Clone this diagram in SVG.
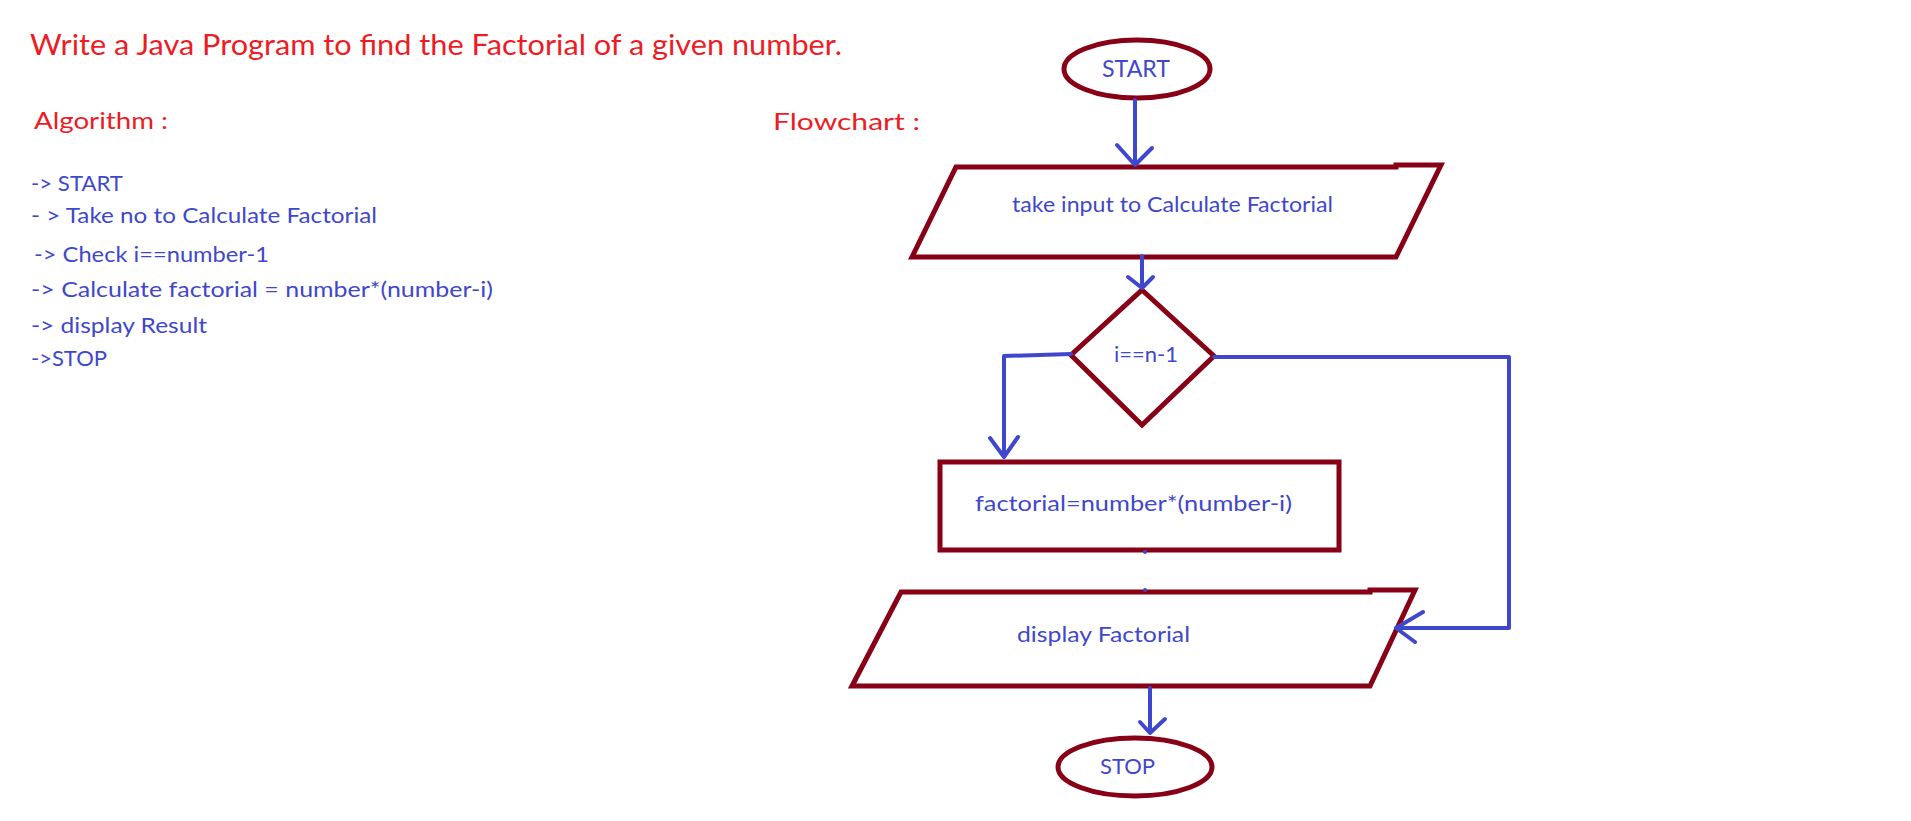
<svg xmlns="http://www.w3.org/2000/svg" width="1911" height="821" viewBox="0 0 1911 821">
<style>
  .red { fill: #ED1C24; font-family: Lato, "Liberation Sans", sans-serif; }
  .blue { fill: #3F48CC; font-family: Lato, "Liberation Sans", sans-serif; }
  .shape { fill: none; stroke: #880015; stroke-width: 5; stroke-linejoin: miter; }
  .conn { fill: none; stroke: #3F48CC; stroke-width: 4; stroke-linecap: round; stroke-linejoin: round; }
</style>
<rect width="1911" height="821" fill="#FFFFFF"/>

<g id="heading">
  <text class="red" x="30" y="55" font-size="28" textLength="812" lengthAdjust="spacingAndGlyphs">Write a Java Program to find the Factorial of a given number.</text>
  <text class="red" x="34" y="129" font-size="24" textLength="134" lengthAdjust="spacingAndGlyphs">Algorithm :</text>
  <text class="red" x="773" y="130" font-size="24" textLength="147" lengthAdjust="spacingAndGlyphs">Flowchart :</text>
</g>

<g id="algorithm">
  <text class="blue" x="31" y="191" font-size="22" textLength="92" lengthAdjust="spacingAndGlyphs">-&gt; START</text>
  <text class="blue" x="31" y="223" font-size="22" textLength="346" lengthAdjust="spacingAndGlyphs">- &gt; Take no to Calculate Factorial</text>
  <text class="blue" x="34" y="262" font-size="22" textLength="235" lengthAdjust="spacingAndGlyphs">-&gt; Check i==number-1</text>
  <text class="blue" x="31" y="297" font-size="22" textLength="462" lengthAdjust="spacingAndGlyphs">-&gt; Calculate factorial = number*(number-i)</text>
  <text class="blue" x="31" y="333" font-size="22" textLength="176" lengthAdjust="spacingAndGlyphs">-&gt; display Result</text>
  <text class="blue" x="31" y="366" font-size="22" textLength="76" lengthAdjust="spacingAndGlyphs">-&gt;STOP</text>
</g>

<g id="node-start">
  <ellipse class="shape" cx="1137" cy="69" rx="73" ry="29"/>
  <text class="blue" x="1102" y="77" font-size="23" textLength="68" lengthAdjust="spacingAndGlyphs">START</text>
</g>

<g id="node-input">
  <path class="shape" d="M912,257 L956,167 L1396,167 L1396,165 L1441,165 L1396,257 Z"/>
  <text class="blue" x="1012" y="212" font-size="21" textLength="321" lengthAdjust="spacingAndGlyphs">take input to Calculate Factorial</text>
</g>

<g id="node-decision">
  <path class="shape" d="M1142,290 L1214,356 L1142,425 L1071,355 Z"/>
  <text class="blue" x="1114" y="362" font-size="22" textLength="64" lengthAdjust="spacingAndGlyphs">i==n-1</text>
</g>

<g id="node-process">
  <rect class="shape" x="940" y="462" width="399" height="88"/>
  <text class="blue" x="975" y="511" font-size="22" textLength="317" lengthAdjust="spacingAndGlyphs">factorial=number*(number-i)</text>
</g>

<g id="node-display">
  <path class="shape" d="M852,686 L901,592 L1370,592 L1370,590 L1415,590 L1370,686 Z"/>
  <text class="blue" x="1017" y="642" font-size="21" textLength="173" lengthAdjust="spacingAndGlyphs">display Factorial</text>
</g>

<g id="node-stop">
  <ellipse class="shape" cx="1135" cy="767" rx="77" ry="29"/>
  <text class="blue" x="1100" y="774" font-size="22" textLength="55" lengthAdjust="spacingAndGlyphs">STOP</text>
</g>

<g id="connectors">
  <path class="conn" d="M1135,100 L1135,165 M1117,145 L1135,165 L1152,148"/>
  <path class="conn" d="M1142,256 L1142,288 M1128,277 L1142,288 L1153,277"/>
  <path class="conn" d="M1071,354 L1004,356 L1004,457 M990,438 L1004,457 L1018,437"/>
  <path class="conn" d="M1214,357 L1509,357 L1509,628 L1396,628 M1423,612 L1396,628 L1415,642"/>
  <path class="conn" d="M1150,688 L1150,733 M1140,722 L1150,733 L1165,719"/>
  <circle cx="1145" cy="552" r="2" fill="#3F48CC"/>
  <circle cx="1145" cy="590" r="2" fill="#3F48CC"/>
</g>
</svg>
